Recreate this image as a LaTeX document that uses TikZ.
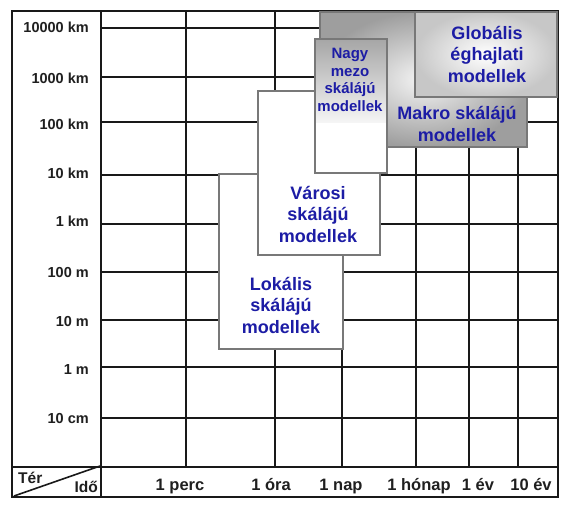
\documentclass[tikz,border=0pt]{standalone}
\usepackage{fontspec}
\setmainfont{Liberation Sans}
\definecolor{txtblue}{RGB}{28,28,165}
\definecolor{boxgray}{RGB}{120,120,120}
\begin{document}
\begin{tikzpicture}[x=1pt,y=-1pt,
  gridln/.style={line width=2.6pt, black!90, line cap=rect},
  boxln/.style={draw=boxgray, line width=1.4pt},
  lbl/.style={font=\fontsize{18}{21.5}\selectfont\bfseries, text=txtblue, align=center, inner sep=0pt},
  lblsm/.style={font=\fontsize{15}{17.5}\selectfont\bfseries, text=txtblue, align=center, inner sep=0pt},
  ax/.style={font=\fontsize{14.5}{16}\selectfont\bfseries, anchor=base east, inner sep=0pt, text=black!88},
  tm/.style={font=\fontsize{16.5}{18}\selectfont\bfseries, anchor=base, inner sep=0pt, text=black!88},
  corner/.style={font=\fontsize{15.5}{17}\selectfont\bfseries, inner sep=0pt, text=black!88}]
\useasboundingbox (0,0) rectangle (570,509);
\fill[white] (0,0) rectangle (570,509);
% grid
\foreach \yy in {28,77,122,175,224,272,320,367,418}
  \draw[gridln] (101,\yy) -- (558,\yy);
\foreach \xx in {186,275,342,416,469,518}
  \draw[gridln] (\xx,11) -- (\xx,467);
\draw[gridln] (101,11) -- (101,497);
\draw[gridln] (12,467) -- (558,467);
\draw[gridln] (12,11) rectangle (558,497);
\draw[line width=1.6pt, black!90] (14,496) -- (100,466);
% boxes
\draw[boxln, fill=white] (219,174) rectangle (343,349);
\draw[boxln, fill=white] (258,91) rectangle (380,255);
\shade[inner color=white!92!gray, outer color=black!38] (320,12) rectangle (527,147);
\draw[boxln] (320,12) rectangle (527,147);
\shade[inner color=white, outer color=black!22] (415,12) rectangle (557,97);
\draw[boxln] (415,12) rectangle (557,97);
\fill[white] (315,39) rectangle (387,173);
\shade[top color=black!35, bottom color=black!4] (315,39) rectangle (387,122);
\draw[boxln] (315,39) rectangle (387,173);
% box texts
\node[lbl] (glob) at (487,54) {Globális\\éghajlati\\modellek};
\node[lbl] (makro) at (457,124) {Makro skálájú\\modellek};
\node[lblsm] (nagy) at (350,80) {Nagy\\mezo\\skálájú\\modellek};
\node[lbl] (varosi) at (318,214) {Városi\\skálájú\\modellek};
\node[lbl] (lokalis) at (281,305) {Lokális\\skálájú\\modellek};
% axis labels
\node[ax] (s1) at (89,32) {10000 km};
\node[ax] (s2) at (89,83) {1000 km};
\node[ax] (s3) at (89,129) {100 km};
\node[ax] (s4) at (89,178) {10 km};
\node[ax] (s5) at (89,226) {1 km};
\node[ax] (s6) at (89,277) {100 m};
\node[ax] (s7) at (89,326) {10 m};
\node[ax] (s8) at (89,374) {1 m};
\node[ax] (s9) at (89,423) {10 cm};
\node[tm] (t1) at (180,490) {1 perc};
\node[tm] (t2) at (271,490) {1 óra};
\node[tm] (t3) at (341,490) {1 nap};
\node[tm] (t4) at (419,490) {1 hónap};
\node[tm] (t5) at (478,490) {1 év};
\node[tm] (t6) at (531,490) {10 év};
\node[corner, anchor=base west] (ter) at (18,483) {Tér};
\node[corner, anchor=base east] (ido) at (98,492) {Idő};
\end{tikzpicture}
\end{document}
